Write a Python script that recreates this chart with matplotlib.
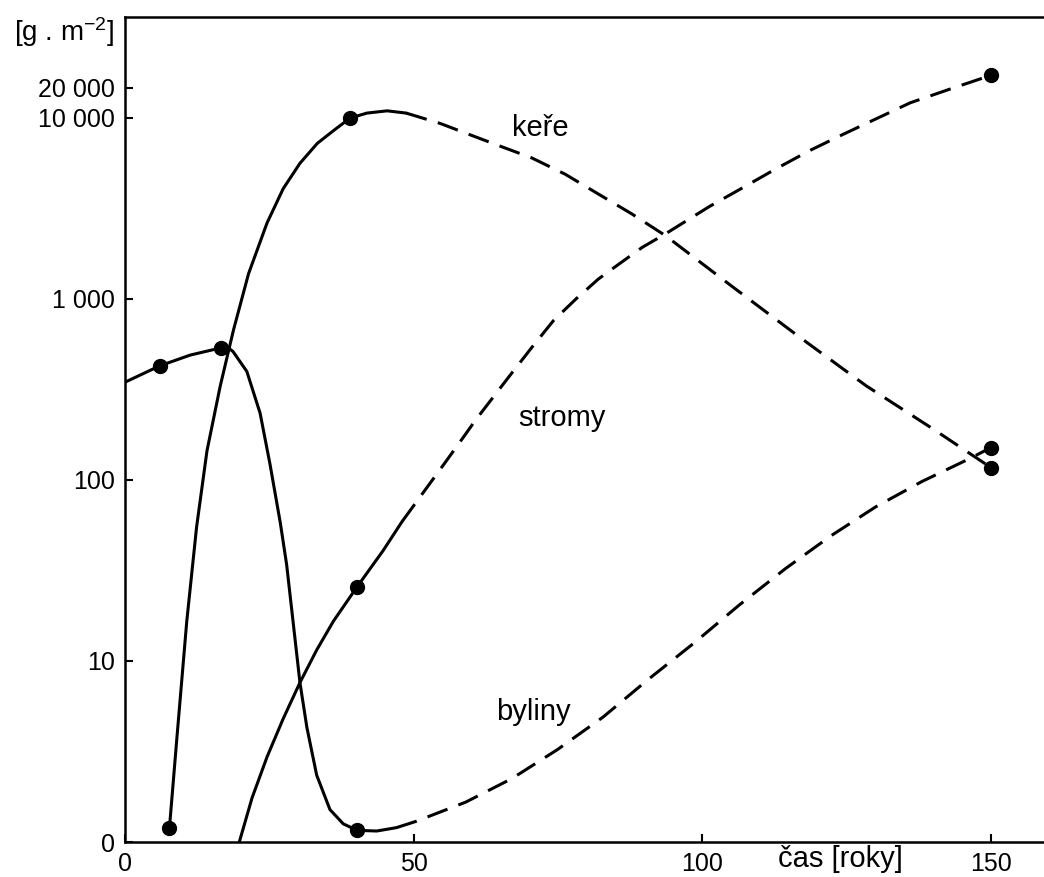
import numpy as np
import matplotlib
matplotlib.use("Agg")
import matplotlib.pyplot as plt

plt.rcParams['font.family'] = ['Liberation Sans Narrow', 'Liberation Sans', 'DejaVu Sans']
plt.rcParams['mathtext.fontset'] = 'custom'
plt.rcParams['mathtext.rm'] = 'Liberation Sans'
plt.rcParams['mathtext.default'] = 'regular'

# time [years], biomass [g.m-2] ("0" on the axis = 1)
byliny_x_solid = [0, 6, 11.3, 16.6, 17.8, 18.7, 21.1, 23.4, 25.1, 26.9, 28.0, 29.1, 30.3, 31.5, 33.2, 35.5, 37.8, 40.2, 43.6, 47]
byliny_y_solid = [347, 427, 490, 537, 540, 513, 398, 234, 123, 58, 34, 16.6, 7.6, 4.3, 2.34, 1.51, 1.26, 1.16, 1.15, 1.2]
byliny_x_dash = [47, 50.4, 59, 67, 74.9, 82.8, 90.6, 98.6, 106.4, 114.4, 122.2, 130, 138, 145.8, 150]
byliny_y_dash = [1.2, 1.3, 1.66, 2.24, 3.24, 4.9, 7.9, 12.6, 20.4, 32.4, 49, 71, 98, 129, 151]
byliny_pts_x = [6, 16.6, 40.2, 150]
byliny_pts_y = [427, 537, 1.16, 151]

kere_x_solid = [7.7, 9.0, 10.7, 12.4, 14.2, 16.5, 18.8, 21.4, 24.6, 27.4, 30.3, 33.3, 36.1, 39.0, 41.9, 45.4, 48.7]
kere_y_solid = [1.2, 3.8, 16.6, 55, 145, 331, 676, 1380, 2630, 4070, 5620, 7240, 8510, 10000, 11200, 11800, 11200]
kere_x_dash = [48.7, 54.6, 58.7, 64.5, 70.4, 76.2, 82, 87.8, 93.6, 105.2, 116.8, 128.4, 140, 150]
kere_y_dash = [11200, 9330, 8320, 7080, 6030, 4900, 3800, 2950, 2240, 1170, 617, 331, 191, 117]
kere_pts_x = [7.7, 39.0, 150]
kere_pts_y = [1.2, 10000, 117]

stromy_x_solid = [19.8, 22.0, 24.6, 27.4, 30.3, 33.2, 36.1, 40.2, 44.7, 48]
stromy_y_solid = [1.0, 1.75, 2.95, 4.8, 7.6, 11.5, 16.6, 25.7, 40.7, 59]
stromy_x_dash = [48, 55.3, 58.7, 60.7, 66.5, 70.4, 74.2, 78.1, 82, 85.8, 89.6, 93.6, 101.2, 107, 112.8, 118.6, 124.4, 130.4, 136, 143, 150]
stromy_y_dash = [59, 123, 174, 214, 372, 537, 759, 1000, 1290, 1580, 1930, 2290, 3240, 4120, 5250, 6610, 8130, 10000, 14200, 19600, 26800]
stromy_pts_x = [40.2, 150]
stromy_pts_y = [25.7, 26800]

ytick_vals = [1, 10, 100, 1000, 10000, 20000]
ytick_labels = ["0", "10", "100", "1 000", "10 000", "20 000"]
xtick_vals = [0, 50, 100, 150]

K = 0.551  # axis is compressed above 10 000


def fwd(v):
    l = np.log10(np.clip(v, 1e-12, None))
    return np.where(l <= 4, l, 4 + (l - 4) * K)


def inv(d):
    d = np.asarray(d, dtype=float)
    return np.where(d <= 4, 10 ** d, 10 ** (4 + (d - 4) / K))


fig = plt.figure(figsize=(10.44, 8.77), dpi=100)
ax = fig.add_axes([125 / 1044, 35 / 877, 918 / 1044, 825 / 877])
ax.set_yscale('function', functions=(fwd, inv))

lw = 2.2
dash = (0, (7, 3.8))
for xs, ys, xd, yd, px, py in [
        (byliny_x_solid, byliny_y_solid, byliny_x_dash, byliny_y_dash, byliny_pts_x, byliny_pts_y),
        (kere_x_solid, kere_y_solid, kere_x_dash, kere_y_dash, kere_pts_x, kere_pts_y),
        (stromy_x_solid, stromy_y_solid, stromy_x_dash, stromy_y_dash, stromy_pts_x, stromy_pts_y)]:
    ax.plot(xs, ys, color='black', lw=lw, solid_capstyle='round', solid_joinstyle='round')
    ax.plot(xd, yd, color='black', lw=lw, linestyle=dash)
    ax.plot(px, py, 'o', color='black', ms=10, zorder=5)

ax.set_xlim(0, 159)
ax.set_ylim(1, inv(4.558))

ax.set_yticks(ytick_vals)
ax.set_yticklabels(ytick_labels)
ax.set_xticks(xtick_vals)
ax.set_xticklabels([str(v) for v in xtick_vals])
ax.minorticks_off()
ax.tick_params(direction='in', length=6, width=1.5, labelsize=18, pad=7)

for s in ['left', 'bottom', 'top']:
    ax.spines[s].set_linewidth(1.8)
ax.spines['right'].set_visible(False)

ax.text(71.9, 8800, "keře", fontsize=21, ha='center', va='center')
ax.text(75.7, 220, "stromy", fontsize=21, ha='center', va='center')
ax.text(70.7, 5.2, "byliny", fontsize=21, ha='center', va='center')
ax.text(124, inv(-0.095), "čas [roky]", fontsize=21, ha='center', va='center')

fig.text(64 / 1044, 1 - 32 / 877, "[g . m$^{-2}$]", fontsize=20, ha='center', va='center')

fig.savefig("out.png", dpi=100, facecolor='white')
